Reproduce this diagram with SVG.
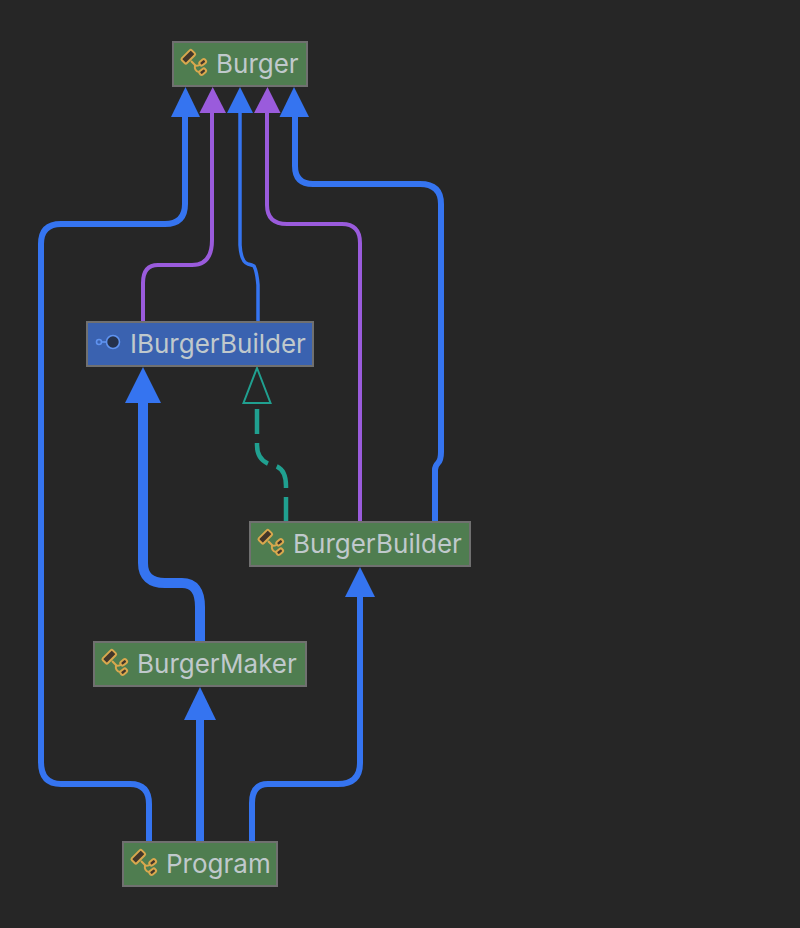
<svg xmlns="http://www.w3.org/2000/svg" width="800" height="928" viewBox="0 0 800 928">
<style>
.node{fill:#4f7d50;stroke:#707070;stroke-width:2}
.iface{fill:#3a62b0}
text{font-family:Inter,"Liberation Sans",sans-serif;font-size:26px;fill:#c0c9cc}
.c{fill:none;stroke-linecap:butt;stroke-linejoin:round}
.b{stroke:#3574f0}
.p{stroke:#9a5bdc}
.g{stroke:#20a090}
.ab{fill:#3574f0}
.ap{fill:#9a5bdc}
</style>
<defs>
<g id="cls" fill="none" stroke="#d9a84e" stroke-width="2">
<path d="M-2,-1 L2,3 Q4,5 8,2"/>
<path d="M2,3 Q1,9 6,10"/>
<rect x="-7" y="-3.500" width="14" height="7" rx="1.500" transform="translate(-4.700,-5.300) rotate(-45)" fill="#43362a"/>
<rect x="-3.500" y="-2.200" width="7" height="4.400" rx="1.800" transform="translate(9.700,0.300) rotate(-40)" fill="#43362a"/>
<rect x="-3.500" y="-2.200" width="7" height="4.400" rx="1.800" transform="translate(9.700,9.700) rotate(-40)" fill="#43362a"/>
</g>
</defs>
<rect width="800" height="928" fill="#262626"/>
<g id="connectors">
<path class="c b" stroke-width="6" d="M149,842V804Q149,784 130,784H61Q41,784 41,762V244Q41,224 61,224H165Q185,224 185,204V115"/>
<path class="c p" stroke-width="4" d="M143,322V283Q143,265 158,265H192Q212,265 212,240V112"/>
<path class="c b" stroke-width="3.500" d="M258,322V285Q257,272 254,266Q252,265 248,264Q241,262 240,245V112"/>
<path class="c p" stroke-width="4" d="M360,522V243Q360,224 342,224H287Q267,224 267,205V112"/>
<path class="c b" stroke-width="6" d="M435,522V470Q435,466 438,463Q441,460 441,452V204Q441,184 420,184H313Q295,184 295,166V115"/>
<path class="c b" stroke-width="10" d="M200,642V607Q200,583 182,583H165Q143,583 143,563V401"/>
<path class="c b" stroke-width="8" d="M200,842V718"/>
<path class="c b" stroke-width="6" d="M252,842V803Q252,784 268,784H338Q360,784 360,763V595"/>
<path class="c g" stroke-width="4.500" stroke-dasharray="25 9" d="M286,522V486Q286,467 272,465Q257,461 257,445V403"/>
<polygon class="ab" points="185.500,87 200,117 171,117"/>
<polygon class="ap" points="212.700,87 226,113 199.500,113"/>
<polygon class="ab" points="240,87 253,113 227,113"/>
<polygon class="ap" points="267.500,87 280.500,113 254,113"/>
<polygon class="ab" points="294,87 309,117 279.500,117"/>
<polygon class="ab" points="143,367 161,403 125,403"/>
<polygon points="257,368 270.500,403 243.500,403" fill="#262626" stroke="#20a090" stroke-width="2"/>
<polygon class="ab" points="360,567 375,597 345,597"/>
<polygon class="ab" points="200,687 216,720 184,720"/>
</g>
<g id="node-burger"><rect class="node" x="173" y="42" width="134" height="44"/><use href="#cls" x="193" y="62"/><text x="216" y="73">Burger</text></g>
<g id="node-iburgerbuilder"><rect class="node iface" x="87" y="322" width="226" height="44"/>
<g fill="none" stroke="#5f93f0" stroke-width="1.600"><circle cx="99" cy="342" r="2.500"/><path d="M102,342H106"/><circle cx="113" cy="342" r="6.500" fill="#25324d"/></g>
<text x="130" y="353">IBurgerBuilder</text></g>
<g id="node-burgerbuilder"><rect class="node" x="250" y="522" width="220" height="44"/><use href="#cls" x="270" y="542"/><text x="293" y="553">BurgerBuilder</text></g>
<g id="node-burgermaker"><rect class="node" x="94" y="642" width="212" height="44"/><use href="#cls" x="114" y="662"/><text x="137" y="673">BurgerMaker</text></g>
<g id="node-program"><rect class="node" x="123" y="842" width="154" height="44"/><use href="#cls" x="143" y="862"/><text x="166" y="873">Program</text></g>
</svg>
